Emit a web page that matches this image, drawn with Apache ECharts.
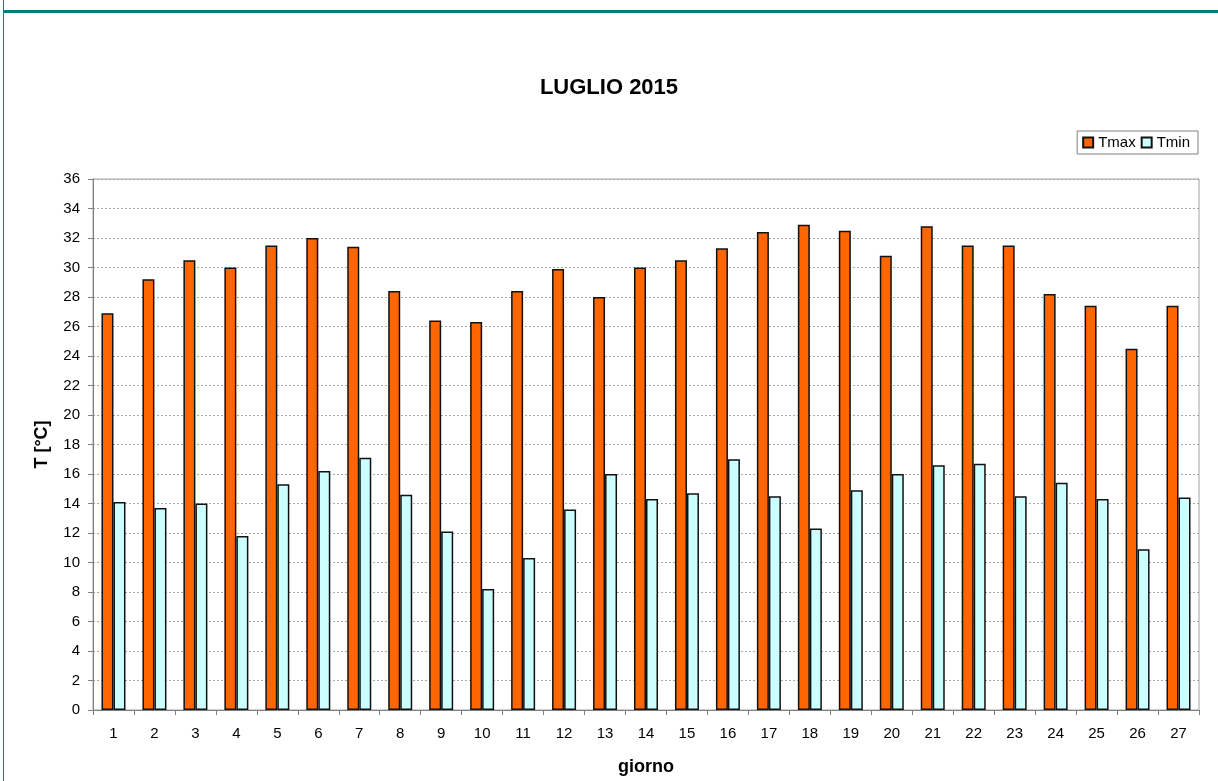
<!DOCTYPE html>
<html>
<head>
<meta charset="utf-8">
<title>LUGLIO 2015</title>
<script src="https://cdn.jsdelivr.net/npm/echarts@6/dist/echarts.min.js"></script>
<style>
  html, body {
    margin: 0;
    padding: 0;
    background: #fff;
  }

  #chart {
    position: absolute;
    left: 0;
    top: 0;
    width: 1218px;
    height: 781px;
  }

  /* cornice verde acqua */
  .frameLeft {
    position: absolute;
    left: 3px;
    top: 0;
    width: 1px;
    height: 781px;
    background: #008080;
  }

  .frameTop {
    position: absolute;
    left: 3px;
    top: 10px;
    width: 1215px;
    height: 3px;
    background: #008080;
  }
</style>
</head>
<body>
<div id="chart"></div>
<div class="frameLeft"></div>
<div class="frameTop"></div>
<script>
  // giorni del mese
  var giorni = ['1', '2', '3', '4', '5', '6', '7', '8', '9', '10', '11', '12', '13', '14',
    '15', '16', '17', '18', '19', '20', '21', '22', '23', '24', '25', '26', '27'];

  // temperature massime
  var tmax = [26.9, 29.2, 30.5, 30.0, 31.5, 32.0, 31.4, 28.4, 26.4, 26.3, 28.4, 29.9, 28.0, 30.0,
    30.5, 31.3, 32.4, 32.9, 32.5, 30.8, 32.8, 31.5, 31.5, 28.2, 27.4, 24.5, 27.4];

  // temperature minime
  var tmin = [14.1, 13.7, 14.0, 11.8, 15.3, 16.2, 17.1, 14.6, 12.1, 8.2, 10.3, 13.6, 16.0, 14.3,
    14.7, 17.0, 14.5, 12.3, 14.9, 16.0, 16.6, 16.7, 14.5, 15.4, 14.3, 10.9, 14.4];

  var font = 'Liberation Sans, Arial, sans-serif';

  var chart = echarts.init(document.getElementById('chart'));

  var option = {
    animation: false,
    textStyle: {
      fontFamily: font
    },
    title: {
      text: 'LUGLIO 2015',
      left: 'center',
      top: 72,
      textStyle: {
        fontFamily: font,
        fontSize: 22,
        fontWeight: 'bold',
        color: '#000'
      }
    },
    legend: {
      data: ['Tmax', 'Tmin'],
      right: 20,
      top: 131,
      icon: 'rect',
      itemWidth: 10,
      itemHeight: 10,
      itemGap: 5,
      padding: [4, 8, 4, 5],
      borderColor: '#808080',
      borderWidth: 1,
      textStyle: {
        fontFamily: font,
        fontSize: 15,
        color: '#000'
      }
    },
    grid: {
      left: 93,
      right: 19,
      top: 179,
      bottom: 71,
      show: true,
      borderColor: '#a0a0a0',
      borderWidth: 1
    },
    xAxis: {
      type: 'category',
      data: giorni,
      name: 'giorno',
      nameLocation: 'middle',
      nameGap: 48,
      nameTextStyle: {
        fontFamily: font,
        fontSize: 18,
        fontWeight: 'bold',
        color: '#000'
      },
      axisLine: {
        lineStyle: {color: '#808080', width: 1}
      },
      axisTick: {
        show: true,
        length: 5,
        lineStyle: {color: '#808080'}
      },
      axisLabel: {
        margin: 16,
        fontSize: 15,
        color: '#000'
      }
    },
    yAxis: {
      type: 'value',
      min: 0,
      max: 36,
      interval: 2,
      name: 'T [°C]',
      nameLocation: 'middle',
      nameGap: 42,
      nameTextStyle: {
        fontFamily: font,
        fontSize: 18,
        fontWeight: 'bold',
        color: '#000'
      },
      axisLine: {
        show: true,
        lineStyle: {color: '#808080', width: 1}
      },
      axisTick: {
        show: true,
        length: 5,
        lineStyle: {color: '#808080'}
      },
      axisLabel: {
        margin: 13,
        fontSize: 15,
        color: '#000'
      },
      splitLine: {
        lineStyle: {color: '#a8a8a8', type: [2, 2], width: 1}
      }
    },
    series: [
      {
        name: 'Tmax',
        type: 'bar',
        data: tmax,
        barWidth: 12,
        barGap: '0%',
        itemStyle: {
          color: '#ff6600',
          borderColor: '#111',
          borderWidth: 1.5
        }
      },
      {
        name: 'Tmin',
        type: 'bar',
        data: tmin,
        barWidth: 12,
        barGap: '0%',
        itemStyle: {
          color: '#ccffff',
          borderColor: '#111',
          borderWidth: 1.5
        }
      }
    ]
  };

  chart.setOption(option);
</script>
</body>
</html>
